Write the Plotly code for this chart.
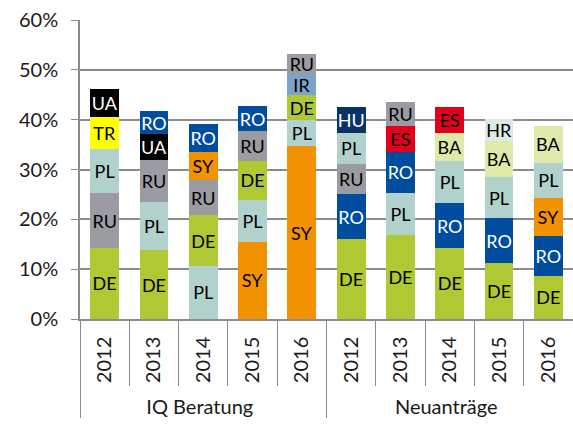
import plotly.graph_objects as go

groups = ["IQ Beratung"] * 5 + ["Neuanträge"] * 5
years = ["2012", "2013", "2014", "2015", "2016"] * 2

# stacked segments, bottom (level 1) to top (level 5)
codes_1 = ["DE", "DE", "PL", "SY", "SY", "DE", "DE", "DE", "DE", "DE"]
vals_1 = [14.3, 13.8, 10.7, 15.5, 34.7, 16.0, 16.8, 14.3, 11.3, 8.7]
codes_2 = ["RU", "PL", "DE", "PL", "PL", "RO", "PL", "RO", "RO", "RO"]
vals_2 = [10.9, 9.6, 10.1, 8.4, 5.2, 9.0, 8.4, 8.9, 8.9, 7.9]
codes_3 = ["PL", "RU", "RU", "DE", "DE", "RU", "RO", "PL", "PL", "SY"]
vals_3 = [9.0, 8.6, 7.0, 7.9, 5.0, 6.2, 8.4, 8.6, 8.2, 7.6]
codes_4 = ["TR", "UA", "SY", "RU", "IR", "PL", "ES", "BA", "BA", "PL"]
vals_4 = [6.3, 5.1, 5.8, 5.9, 4.3, 6.1, 5.1, 5.5, 7.3, 7.2]
codes_5 = ["UA", "RO", "RO", "RO", "RU", "HU", "RU", "ES", "HR", "BA"]
vals_5 = [5.6, 4.6, 5.5, 5.0, 4.0, 5.2, 4.8, 5.2, 4.4, 7.3]

y_ticks = [0, 10, 20, 30, 40, 50, 60]

colors = {
    "DE": "#AFC834", "PL": "#B1D1CC", "RU": "#9A9CA2", "TR": "#FFFF00",
    "UA": "#000000", "RO": "#004C9E", "SY": "#F39200", "IR": "#7EA2C9",
    "HU": "#0B3264", "ES": "#E2001A", "BA": "#DFE9AA", "HR": "#DCE9E6",
}
white_text = {"UA", "RO", "HU"}
FONT = "Lato, Open Sans, sans-serif"

fig = go.Figure()
for codes, vals in [(codes_1, vals_1), (codes_2, vals_2), (codes_3, vals_3),
                    (codes_4, vals_4), (codes_5, vals_5)]:
    fig.add_trace(go.Bar(
        x=[groups, years],
        y=[v / 100 for v in vals],
        text=codes,
        textposition="inside",
        insidetextanchor="middle",
        textangle=0,
        textfont=dict(family=FONT, size=18,
                      color=["#ffffff" if c in white_text else "#000000" for c in codes]),
        marker=dict(color=[colors[c] for c in codes], line=dict(width=0)),
        hoverinfo="skip",
        showlegend=False,
    ))

fig.update_layout(
    barmode="stack",
    bargap=0.415,
    width=573, height=429,
    margin=dict(l=80, r=0, t=20, b=110),
    plot_bgcolor="white", paper_bgcolor="white",
    font=dict(family=FONT, size=20, color="#1a1a1a"),
    uniformtext=dict(minsize=18, mode="show"),
    xaxis=dict(
        type="multicategory",
        automargin=False,
        showline=True, linecolor="#8c8c8c", linewidth=1.5,
        ticks="outside", ticklen=65, tickcolor="#8c8c8c", tickwidth=1,
        tickangle=-90,
        ticklabelstandoff=8,
        tickfont=dict(family=FONT, size=20),
        showdividers=True, dividercolor="#8c8c8c", dividerwidth=1,
    ),
    yaxis=dict(
        automargin=False,
        range=[0, 0.6],
        tickvals=[v / 100 for v in y_ticks],
        ticktext=[f"{v}%" for v in y_ticks],
        showgrid=True, gridcolor="#8c8c8c", gridwidth=1.5,
        showline=True, linecolor="#8c8c8c", linewidth=1.5,
        ticks="outside", ticklen=7, tickcolor="#8c8c8c",
        ticklabelstandoff=9,
        tickfont=dict(family=FONT, size=20),
        zeroline=False,
    ),
)

fig.write_html("out.html", config={"displayModeBar": False},
               post_script="document.body.style.margin='0px';")
